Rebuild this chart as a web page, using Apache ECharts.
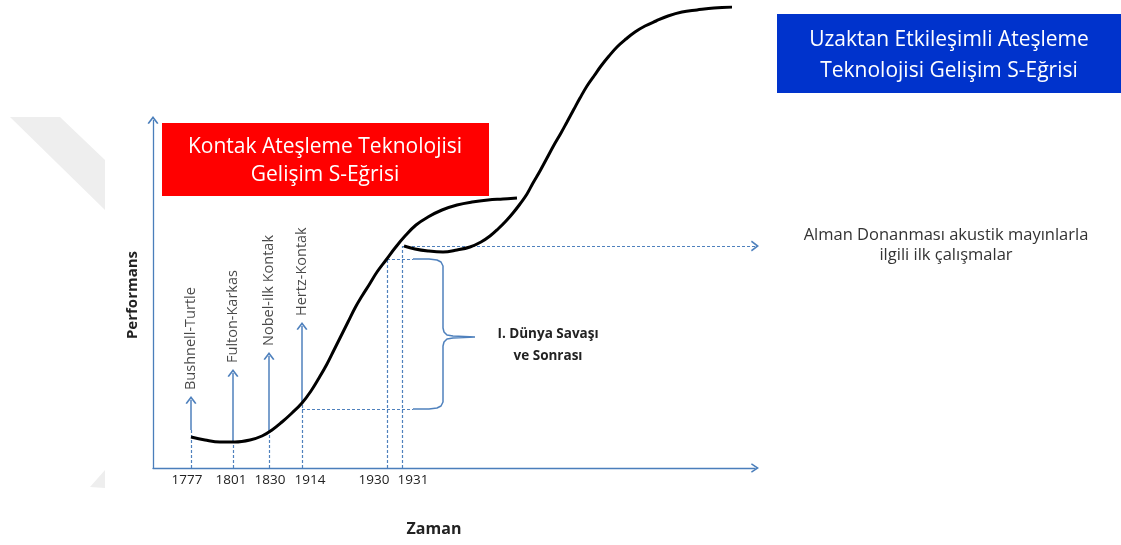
<!DOCTYPE html>
<html><head><meta charset="utf-8">
<script src="https://cdn.jsdelivr.net/npm/echarts@6/dist/echarts.min.js"></script>
<style>html,body{margin:0;padding:0;background:#fff}#c{width:1121px;height:545px}</style>
</head><body><div id="c"></div>
<script>
// Schematic time axis (arbitrary units) and performance (arbitrary units)
const years = ['1777', '1801', '1830', '1914', '1930', '1931'];
const yearPos = [38, 80, 116, 149, 234, 249];
const yearLabelPos = [34, 78, 117, 157, 221, 260];

const milestoneNames = ['Bushnell-Turtle', 'Fulton-Karkas', 'Nobel-ilk Kontak', 'Hertz-Kontak'];
const milestoneBase = [38, 26, 36, 65];
const milestoneTip = [68, 95, 112, 142];

// Kontak Ateşleme Teknolojisi S-curve
const contactCurve = [[38,31],[52,28],[67,26],[82,26],[97,28],[109,32],[119,38],[129,46],[139,55],[149,65],[158,77],
  [166,90],[174,104],[181,118],[188,132],[195,146],[202,160],[209,172],[216,183],[224,196],[233,208],[242,220],[252,232],
  [263,243],[275,251],[289,258],[304,263],[319,266],[335,268],[350,269],[364,270]];
// Uzaktan Etkileşimli Ateşleme Teknolojisi S-curve
const remoteCurve = [[251,222],[262,219],[275,217],[290,216],[304,218],[317,221],[328,226],[337,232],[345,239],[353,247],
  [360,255],[367,264],[374,274],[380,285],[387,297],[394,310],[401,323],[408,335],[414,346],[421,359],[427,370],[434,382],
  [441,392],[448,402],[456,412],[464,421],[473,429],[482,436],[492,442],[503,447],[515,452],[529,456],[544,458],[561,460],[579,461]];

// Brace marking "I. Dünya Savaşı ve Sonrası" (from warTop down to warBottom)
const warTop = 209, warBottom = 59;
const bracePoints = [[260,209],[276,209],[284,208],[288,206],[290,202],[290,140],[291,136],[294,133],[300,132],[322,131],
  [300,130],[294,129],[291,126],[290,122],[290,66],[288,62],[284,60],[276,59],[260,59]];

const xMax = 602, yMax = 461, yAxisTop = 348;

const chev = 'path://M0,9 L6,0 L12,9 L10.4,10 L6,3.4 L1.6,10 Z';
const blue = '#4F81BD';
const dashed = {type: [3, 2], color: blue, width: 1.2};
const solid = {type: 'solid', color: blue, width: 1.5};

const lines = [];
lines.push([{coord: [0, 0], lineStyle: {type: 'solid', color: '#4A7EBB', width: 1.3}}, {coord: [0, yAxisTop], symbol: chev}]);
yearPos.forEach((x, i) => {
  const top = i < 4 ? milestoneBase[i] : (i === 4 ? warTop : remoteCurve[0][1]);
  lines.push([{coord: [x, 0], lineStyle: dashed}, {coord: [x, top]}]);
});
milestoneNames.forEach((n, i) => {
  lines.push([{coord: [yearPos[i], milestoneBase[i]], lineStyle: solid}, {coord: [yearPos[i], milestoneTip[i]], symbol: chev}]);
});
lines.push([{coord: [yearPos[4], warTop], lineStyle: dashed}, {coord: [bracePoints[0][0], warTop]}]);
lines.push([{coord: [yearPos[3], warBottom], lineStyle: dashed}, {coord: [bracePoints[0][0], warBottom]}]);
lines.push([{coord: [yearPos[5], remoteCurve[0][1]], lineStyle: dashed}, {coord: [xMax, remoteCurve[0][1]], symbol: chev}]);

const chart = echarts.init(document.getElementById('c'));
const FONT = '"Open Sans", sans-serif';
chart.setOption({
  animation: false,
  grid: {left: 153, right: 366, top: 7, bottom: 77, containLabel: false},
  xAxis: {
    type: 'value', min: 0, max: xMax,
    axisLine: {show: true, symbol: ['none', chev], symbolSize: [11, 8], lineStyle: {color: '#4A7EBB', width: 1.3}},
    axisTick: {show: false}, splitLine: {show: false},
    axisLabel: {customValues: yearLabelPos, formatter: v => years[yearLabelPos.indexOf(v)], color: '#222', fontSize: 13.5, fontFamily: FONT, margin: 5}
  },
  yAxis: {type: 'value', min: 0, max: yMax, axisLine: {show: false}, axisTick: {show: false}, axisLabel: {show: false}, splitLine: {show: false}},
  series: [
    {type: 'line', data: contactCurve, smooth: 0.4, symbol: 'none', lineStyle: {color: '#000', width: 3}, z: 5},
    {type: 'line', data: remoteCurve, smooth: 0.4, symbol: 'none', lineStyle: {color: '#000', width: 3}, z: 5},
    {type: 'line', data: bracePoints, smooth: false, symbol: 'none', lineStyle: {color: blue, width: 1.5}, z: 3,
      markLine: {silent: true, symbol: ['none', 'none'], symbolSize: [11, 8], label: {show: false}, data: lines, animation: false}},
    {type: 'scatter', symbolSize: 0, z: 6,
      data: milestoneNames.map((n, i) => ({name: n, value: [yearPos[i], milestoneTip[i]]})),
      label: {show: true, formatter: '{b}', position: 'top', distance: 10, rotate: 90, align: 'left', verticalAlign: 'middle',
        fontSize: 14.5, color: '#1a1a1a', fontFamily: FONT}}
  ],
  graphic: [
    {type: 'polygon', shape: {points: [[10,117],[60,117],[105,160],[105,210]]}, style: {fill: '#eeeeee'}, z: -1},
    {type: 'polygon', shape: {points: [[90,487],[105,470],[105,488]]}, style: {fill: '#eeeeee'}, z: -1},
    {type: 'rect', shape: {x: 162, y: 123, width: 327, height: 73}, style: {fill: '#FF0000'}},
    {type: 'text', x: 325, y: 161, style: {text: 'Kontak Ateşleme Teknolojisi\nGelişim S-Eğrisi', fill: '#fff', font: '21px ' + FONT, align: 'center', verticalAlign: 'middle', lineHeight: 28}},
    {type: 'rect', shape: {x: 777, y: 14, width: 344, height: 79}, style: {fill: '#0033CC'}},
    {type: 'text', x: 949, y: 56, style: {text: 'Uzaktan Etkileşimli Ateşleme\nTeknolojisi Gelişim S-Eğrisi', fill: '#fff', font: '21px ' + FONT, align: 'center', verticalAlign: 'middle', lineHeight: 31}},
    {type: 'text', x: 946, y: 245, style: {text: 'Alman Donanması akustik mayınlarla\nilgili ilk çalışmalar', fill: '#333', font: '16.5px ' + FONT, align: 'center', verticalAlign: 'middle', lineHeight: 20}},
    {type: 'text', x: 548, y: 345, style: {text: 'I. Dünya Savaşı\nve Sonrası', fill: '#222', font: 'bold 13.5px ' + FONT, align: 'center', verticalAlign: 'middle', lineHeight: 22}},
    {type: 'text', x: 133, y: 295, rotation: Math.PI / 2, style: {text: 'Performans', fill: '#222', font: 'bold 15px ' + FONT, align: 'center', verticalAlign: 'middle'}},
    {type: 'text', x: 434, y: 529, style: {text: 'Zaman', fill: '#222', font: 'bold 16px ' + FONT, align: 'center', verticalAlign: 'middle'}}
  ]
});
</script></body></html>
